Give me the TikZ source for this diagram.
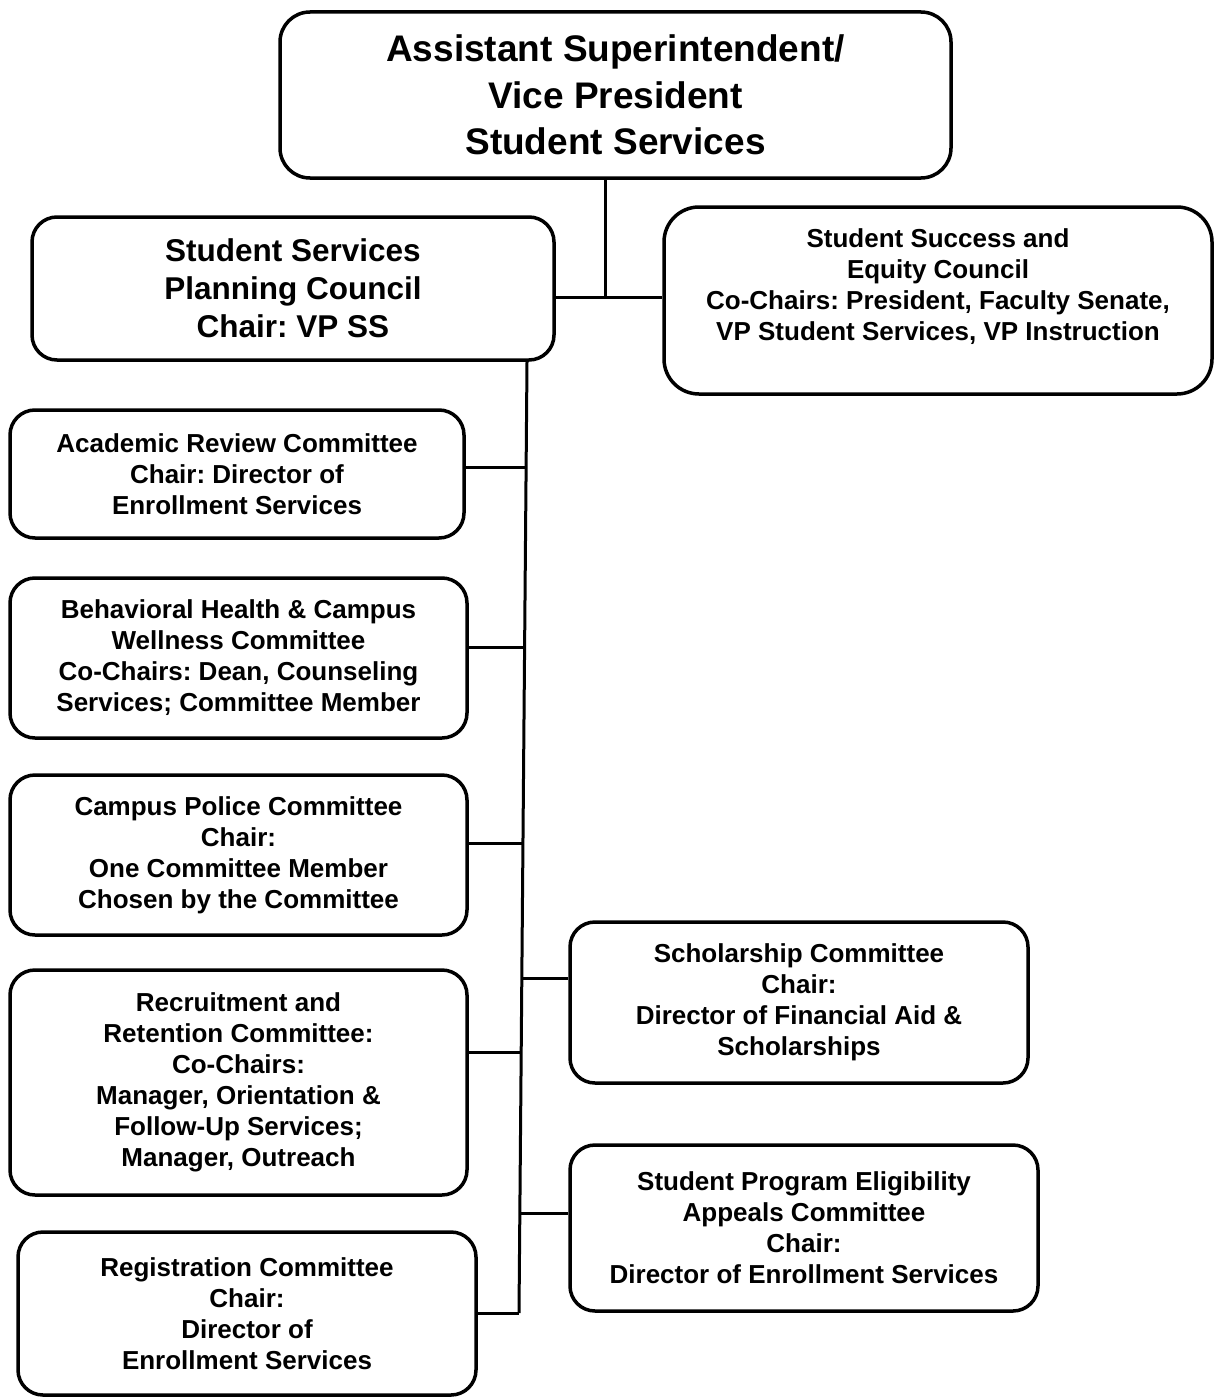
\documentclass[tikz,border=0pt]{standalone}
\usepackage{fontspec}
\setmainfont{Liberation Sans}
\usetikzlibrary{calc}
\frenchspacing
\tikzset{
  box/.style={draw, line width=3.5pt, rounded corners=25pt, align=center, inner sep=0pt,
    font=\bfseries\fontsize{26}{31}\selectfont},
  link/.style={line width=3pt},
}
\begin{document}
\begin{tikzpicture}[x=1pt,y=-1pt]
\useasboundingbox (0,0) rectangle (1215,1397);
% boxes
\node[box, rounded corners=30pt, minimum width=671pt, minimum height=166pt,
  font=\bfseries\fontsize{37}{46.5}\selectfont] (top) at (615.5,95)
  {Assistant Superintendent/\\Vice President\\Student Services};
\node[box, minimum width=522pt, minimum height=143pt,
  font=\bfseries\fontsize{31.5}{38}\selectfont] (sspc) at (293,288.5)
  {Student Services\\Planning Council\\Chair: VP SS};
\node[box, rounded corners=35pt, minimum width=548pt, minimum height=187pt] (ssec) at (938,300.5)
  {Student Success and\\Equity Council\\Co-Chairs: President, Faculty Senate,\\VP Student Services, VP Instruction\\\mbox{}};
\node[box, minimum width=454pt, minimum height=128pt] (arc) at (237,474)
  {Academic Review Committee\\Chair: Director of\\Enrollment Services};
\node[box, minimum width=457pt, minimum height=160pt] (bh) at (238.5,658)
  {Behavioral Health \& Campus\\Wellness Committee\\Co-Chairs: Dean, Counseling\\Services; Committee Member};
\node[box, minimum width=457pt, minimum height=160pt] (cp) at (238.5,855)
  {Campus Police Committee\\Chair:\\One Committee Member\\Chosen by the Committee};
\node[box, minimum width=457pt, minimum height=225pt] (rr) at (238.5,1082.5)
  {Recruitment and\\Retention Committee:\\Co-Chairs:\\Manager, Orientation \&\\Follow-Up Services;\\Manager, Outreach};
\node[box, minimum width=458pt, minimum height=163pt] (reg) at (247,1313.5)
  {Registration Committee\\Chair:\\Director of\\Enrollment Services};
\node[box, minimum width=458pt, minimum height=161pt] (sch) at (799,1002.5)
  {Scholarship Committee\\Chair:\\Director of Financial Aid \&\\Scholarships};
\node[box, minimum width=468pt, minimum height=166pt] (spe) at (804,1228)
  {Student Program Eligibility\\Appeals Committee\\Chair:\\Director of Enrollment Services};
% junctions
\coordinate (j1) at (605,297);
\coordinate (tt) at (527,360);
\coordinate (tb) at (519,1313);
\coordinate (b1) at (526,467);
\coordinate (b2) at (524.6,647);
\coordinate (b3) at (523,843);
\coordinate (b4) at (521.8,978);
\coordinate (b5) at (521.2,1052);
\coordinate (b6) at (519.8,1213);
% connectors
\draw[link] (j1 |- top.south) -- (j1);
\draw[link] (sspc.east |- j1) -- (ssec.west |- j1);
\draw[link] (tt |- sspc.south) -- (tb);
\draw[link] (arc.east |- b1) -- (b1);
\draw[link] (bh.east |- b2) -- (b2);
\draw[link] (cp.east |- b3) -- (b3);
\draw[link] (b4) -- (sch.west |- b4);
\draw[link] (rr.east |- b5) -- (b5);
\draw[link] (b6) -- (spe.west |- b6);
\draw[link] (reg.east |- tb) -- (tb);
\end{tikzpicture}
\end{document}
